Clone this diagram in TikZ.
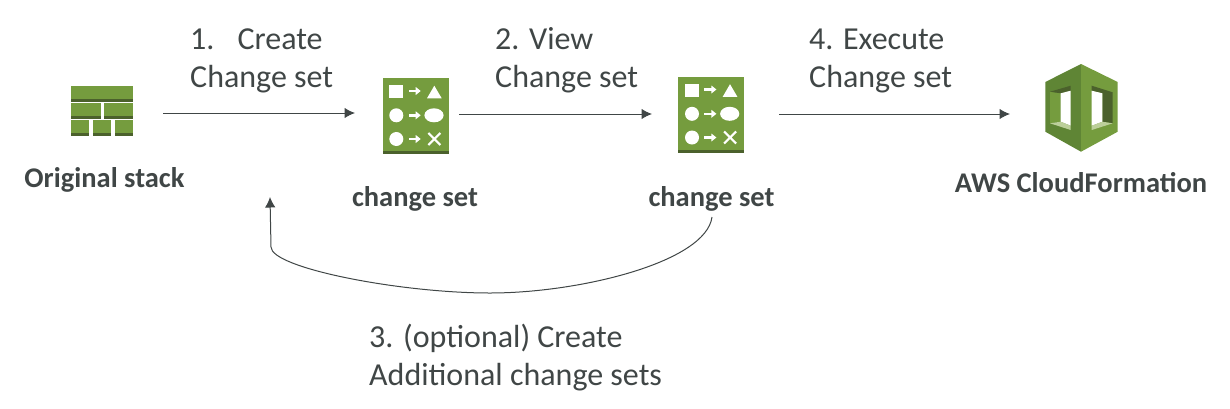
\documentclass[tikz,border=0pt]{standalone}
\usepackage{fontspec}
\setmainfont{Carlito}
\usetikzlibrary{arrows.meta}
\definecolor{ink}{HTML}{404646}
\definecolor{leaf}{HTML}{759C3E}
\definecolor{leafdark}{HTML}{4B612C}
\definecolor{leaflight}{HTML}{BCCF9A}
\definecolor{leafmid}{HTML}{5F8535}
\tikzset{
 lbl/.style={font=\fontsize{32}{38}\selectfont,text=ink,align=left,anchor=north west,inner sep=0pt},
 captext/.style={font=\fontsize{28.5}{32}\selectfont\bfseries,text=ink,inner sep=0pt,anchor=base},
 flow/.style={draw=ink,line width=1pt,-{Latex[length=10.5pt,width=10.5pt]}},
 glyph/.style={fill=white,draw=none},
 wire/.style={draw=white,line width=2.2pt}
}
\newcommand{\brick}[4]{\fill[leaf] (#1,#2) rectangle (#3,#4);\fill[leafdark] (#1,#4-2.3) rectangle (#3,#4);}
\newcommand{\csicon}[2]{\begin{scope}[shift={(#1,#2)}]
 \fill[leaf] (0,0) rectangle (66,76);
 \fill[leafdark] (0,73) rectangle (66,76);
 \fill[glyph] (6.6,7) rectangle (20.6,20.3);
 \fill[glyph] (44.3,20.3) -- (59,20.3) -- (51.6,7.7) -- cycle;
 \fill[glyph] (13.6,37.3) circle (7);
 \fill[glyph] (51.3,37.3) ellipse (9.6 and 7);
 \fill[glyph] (13.6,61) circle (7);
 \draw[wire] (45.7,55) -- (57.7,67) (57.7,55) -- (45.7,67);
 \foreach \yy in {13,37.3,61}{
  \fill[glyph] (26,\yy-1.2) rectangle (34,\yy+1.2);
  \fill[glyph] (33,\yy-4) -- (38,\yy) -- (33,\yy+4) -- cycle;}
\end{scope}}
\begin{document}
\begin{tikzpicture}[x=1pt,y=-1pt]
\useasboundingbox (0,0) rectangle (1230,408);
% brick icon
\brick{71}{86}{133}{101.6}
\brick{71}{102.7}{100.7}{118.7}
\brick{104}{102.7}{133}{118.7}
\brick{71}{120}{89}{135.5}
\brick{93}{120}{111}{135.5}
\brick{114.5}{120}{133}{135.5}
\csicon{382.7}{78}
\csicon{678.4}{76.5}
% CloudFormation icon
\fill[leafmid] (1081,64) -- (1045.3,82) -- (1045.3,131.7) -- (1081,151.7) -- cycle;
\fill[leaf] (1081,64) -- (1117.7,82) -- (1117.7,131.7) -- (1081,151.7) -- cycle;
% left window
\fill[leaf] (1050,91.7) -- (1060.7,93.3) -- (1060.7,121.7) -- (1050,123.3) -- cycle;
\fill[leafdark] (1050,91.7) -- (1070.7,85.7) -- (1070.7,90.7) -- (1060.7,93.3) -- cycle;
\fill[white] (1060.7,93.3) -- (1070.7,90.7) -- (1070.7,125.7) -- (1060.7,121.7) -- cycle;
\fill[leaflight] (1050,123.3) -- (1060.7,121.7) -- (1070.7,125.7) -- (1070.7,130) -- cycle;
% right window
\fill[leafdark] (1091.7,85.7) -- (1112.7,92.3) -- (1112.7,123.3) -- (1102.3,121.7) -- (1102.3,93.3) -- (1091.7,90.7) -- cycle;
\fill[white] (1091.7,90.7) -- (1102.3,93.3) -- (1102.3,121.7) -- (1091.7,125.7) -- cycle;
\fill[leaflight] (1091.7,125.7) -- (1102.3,121.7) -- (1112.7,123.3) -- (1091.7,130) -- cycle;
% labels
\node[captext] (orig) at (104.5,187) {Original stack};
\node[captext] (cs1) at (415,206) {change set};
\node[captext] (cs2) at (711.5,206) {change set};
\node[captext] (cfn) at (1081,192) {AWS CloudFormation};
\node[lbl] (t1) at (190,23) {\strut 1.\hspace{0.72em}Create\\Change set};
\node[lbl] (t2) at (495,23) {\strut 2. View\\Change set};
\node[lbl] (t4) at (809,23) {\strut 4. Execute\\Change set};
\node[lbl] (t3) at (369,321) {\strut 3. (optional) Create\\Additional change sets};
% connectors
\coordinate (a1s) at (163,113); \coordinate (a1e) at (355,113);
\coordinate (a2s) at (459,114); \coordinate (a2e) at (652,114);
\coordinate (a3s) at (779,114); \coordinate (a3e) at (1010,114);
\draw[flow] (a1s) -- (a1e);
\draw[flow] (a2s) -- (a2e);
\draw[flow] (a3s) -- (a3e);
\coordinate (backs) at (712,217); \coordinate (backe) at (270,197);
\draw[flow] (backs) .. controls (706,262) and (580,293) .. (490,293)
 .. controls (400,293) and (271,268) .. (271,247) -- (backe);
\end{tikzpicture}
\end{document}
